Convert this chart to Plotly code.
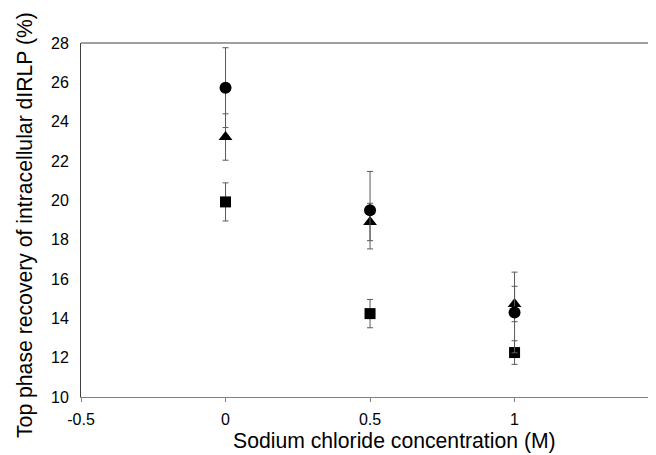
import plotly.graph_objects as go

x_vals = [0, 0.5, 1]
circle_y = [25.73, 19.5, 14.3]
circle_err = [2.03, 1.97, 2.05]
triangle_y = [23.22, 18.9, 14.73]
triangle_err = [1.18, 0.95, 0.9]
square_y = [19.92, 14.24, 12.26]
square_err = [0.97, 0.72, 0.6]

x_ticks = [-0.5, 0, 0.5, 1]
x_ticklabels = ["-0.5", "0", "0.5", "1"]
y_ticks = [10, 12, 14, 16, 18, 20, 22, 24, 26, 28]
x_title = "Sodium chloride concentration (M)"
y_title = "Top phase recovery of intracellular dIRLP (%)"

err_color = "#5a5a5a"

fig = go.Figure()
series = [
    (square_y, square_err, "square", 11),
    (triangle_y, triangle_err, "triangle-up", 12),
    (circle_y, circle_err, "circle", 12),
]
for ys, es, sym, sz in series:
    fig.add_trace(go.Scatter(
        x=x_vals, y=ys, mode="markers",
        marker=dict(symbol=sym, size=sz, color="black", line=dict(width=0)),
        error_y=dict(type="data", array=es, visible=True, color=err_color,
                     thickness=1, width=3),
        showlegend=False,
    ))

fig.add_shape(type="line", xref="paper", yref="paper", x0=0, x1=1, y0=1, y1=1,
              line=dict(color="#404040", width=1))

font_family = "Liberation Sans, Arial, sans-serif"
fig.add_annotation(text=x_title, xref="paper", yref="paper", x=0.537, y=-0.124,
                   xanchor="center", yanchor="middle", showarrow=False,
                   font=dict(size=21.2, family=font_family, color="black"))
fig.add_annotation(text=y_title, xref="paper", yref="paper", x=-0.096, y=0.486,
                   xanchor="center", yanchor="middle", showarrow=False, textangle=-90,
                   font=dict(size=21.2, family=font_family, color="black"))

fig.update_layout(
    width=656, height=455,
    margin=dict(l=73, r=0, t=35, b=66),
    paper_bgcolor="white", plot_bgcolor="white",
    font=dict(family=font_family, color="black", size=16),
    xaxis=dict(
        range=[-0.5, 1.517], tickvals=x_ticks, ticktext=x_ticklabels,
        showgrid=False, zeroline=False, showline=True, linecolor="#808080",
        linewidth=1, ticks="outside", ticklen=4, tickcolor="#808080",
        tickfont=dict(size=16), ticklabelstandoff=4,
    ),
    yaxis=dict(
        range=[10, 28], tickvals=y_ticks,
        showgrid=False, zeroline=False, showline=True, linecolor="#404040",
        linewidth=1, ticks="", tickfont=dict(size=16), ticklabelstandoff=8,
    ),
)

fig.write_html("out.html")
